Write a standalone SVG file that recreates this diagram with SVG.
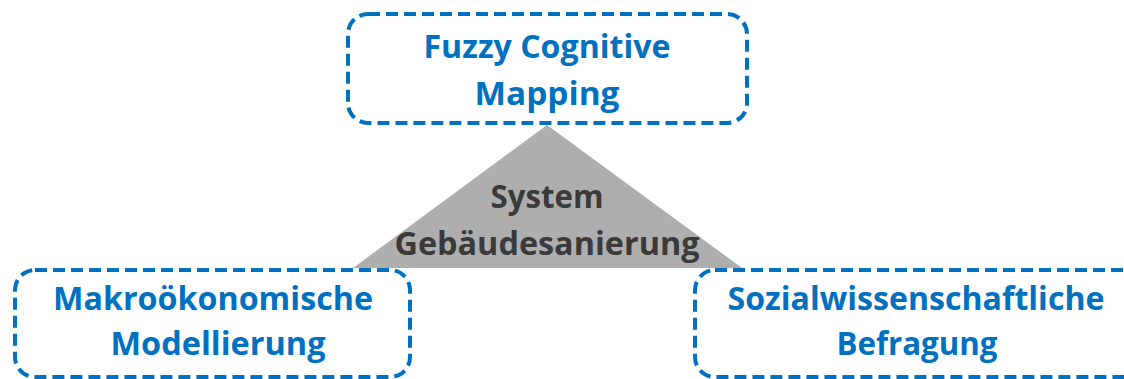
<svg xmlns="http://www.w3.org/2000/svg" width="1124" height="379" viewBox="0 0 1124 379">
<style>
.box{fill:#fff;stroke:#0070C0;stroke-width:4;stroke-dasharray:12 6}
.bt{font-family:"Open Sans",Lato,"Liberation Sans",sans-serif;font-weight:bold;font-size:32px;fill:#0070C0;text-anchor:middle}
.ct{font-family:"Open Sans",Lato,"Liberation Sans",sans-serif;font-weight:bold;font-size:32px;fill:#3A3A3A;text-anchor:middle}
</style>
<rect width="1124" height="379" fill="#fff"/>
<g id="system">
<polygon points="547,125 353,268 742,268" fill="#AEAEAE"/>
<text class="ct" x="547" y="208" textLength="113" lengthAdjust="spacingAndGlyphs">System</text>
<text class="ct" x="547" y="255" textLength="305" lengthAdjust="spacingAndGlyphs">Gebäudesanierung</text>
</g>
<g id="connectors"></g>
<g id="fcm">
<rect class="box" x="348" y="14" width="399" height="109" rx="20"/>
<text class="bt" x="547" y="58" textLength="247" lengthAdjust="spacingAndGlyphs">Fuzzy Cognitive</text>
<text class="bt" x="547" y="105" textLength="145" lengthAdjust="spacingAndGlyphs">Mapping</text>
</g>
<g id="makro">
<rect class="box" x="15" y="270" width="395" height="107" rx="20"/>
<text class="bt" x="213" y="310" textLength="320" lengthAdjust="spacingAndGlyphs">Makroökonomische</text>
<text class="bt" x="218" y="355" textLength="215" lengthAdjust="spacingAndGlyphs">Modellierung</text>
</g>
<g id="sozial">
<rect class="box" x="695" y="270" width="450" height="107" rx="20"/>
<text class="bt" x="916" y="310" textLength="377" lengthAdjust="spacingAndGlyphs">Sozialwissenschaftliche</text>
<text class="bt" x="917" y="355" textLength="161" lengthAdjust="spacingAndGlyphs">Befragung</text>
</g>
</svg>
